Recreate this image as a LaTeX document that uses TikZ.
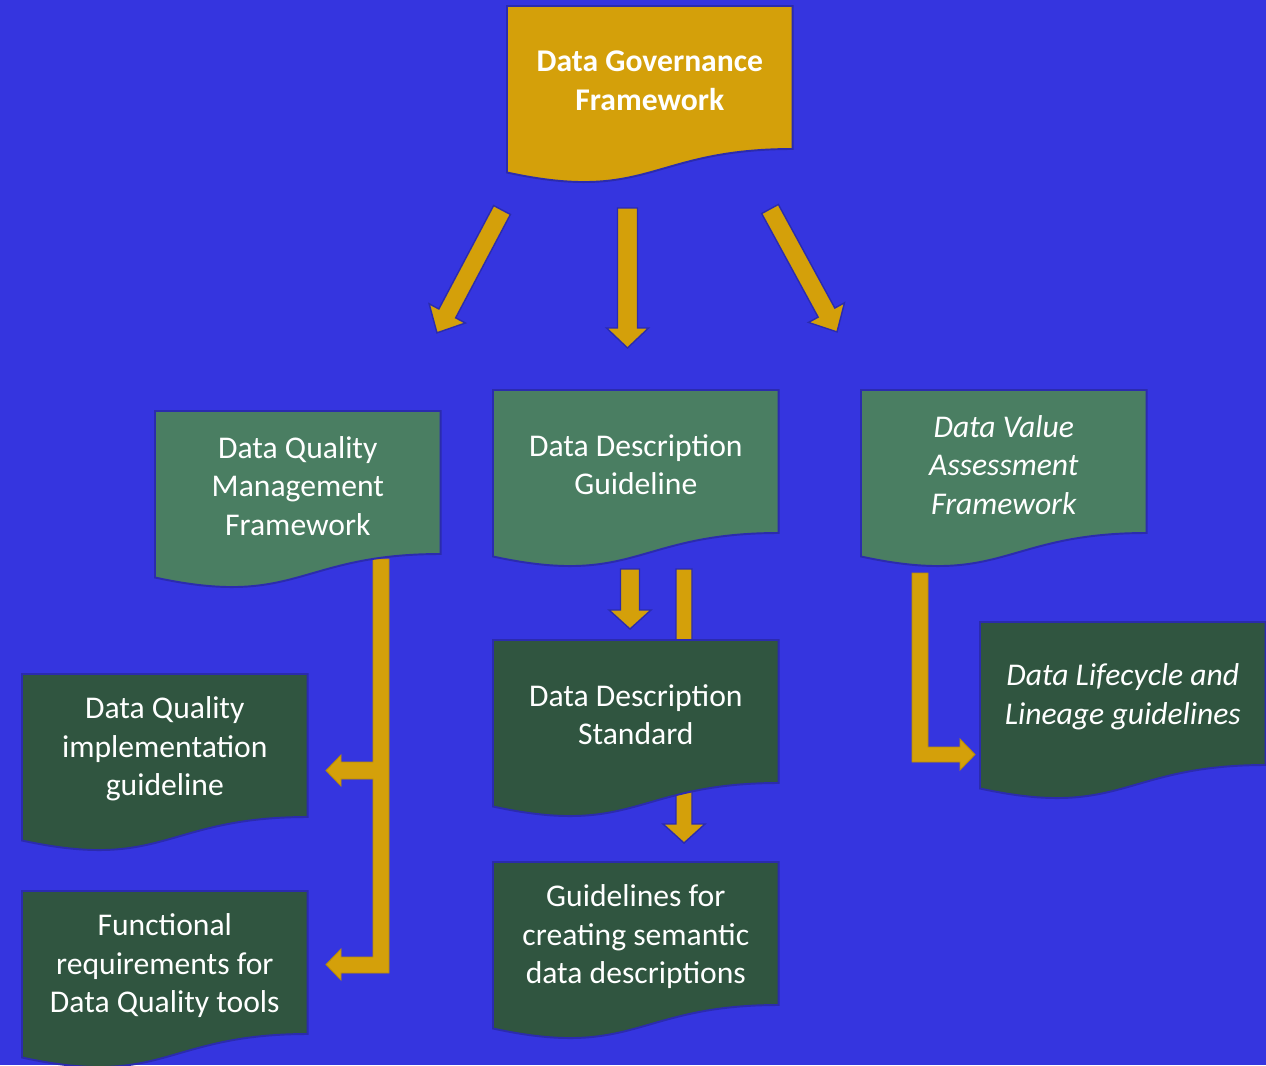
\documentclass[tikz,border=0pt]{standalone}
\usepackage{fontspec}
\setmainfont{Carlito}
\usetikzlibrary{calc}
\definecolor{bgblue}{HTML}{3535DF}
\definecolor{gold}{HTML}{D4A00A}
\definecolor{darkgold}{HTML}{B88A08}
\definecolor{lgreen}{HTML}{4A7E62}
\definecolor{dgreen}{HTML}{305540}
\definecolor{edgeblue}{HTML}{2B2BAE}
\pgfdeclarelayer{back}
\pgfdeclarelayer{shapes}
\pgfsetlayers{back,shapes,main}
\tikzset{
  doctext/.style={anchor=north west, minimum width=5.7cm, minimum height=2.86cm,
    inner sep=0pt, align=center, text=white, font=\fontsize{18}{21.8}\selectfont},
  docline/.style={draw=edgeblue, line width=1.1pt},
  arrowst/.style={fill=gold, draw=edgeblue, line width=0.8pt, line join=miter},
  bracketst/.style={fill=gold, draw=darkgold, line width=0.5pt},
  pics/barrow/.style args={#1/#2/#3/#4}{code={
    \draw[arrowst] (0,-#2/2) -- ({#1-#4},-#2/2) -- ({#1-#4},-#3/2) -- (#1,0)
      -- ({#1-#4},#3/2) -- ({#1-#4},#2/2) -- (0,#2/2) -- cycle;}}
}
% text nodes are placed 3px below the top of their shape
\newcommand\docpath[2]{%
  \draw[docline, fill=#2] ($(#1.north west)+(0,-3)$) -- ($(#1.north east)+(0,-3)$) -- ($(#1.north east)+(0,140)$)
    .. controls ($(#1.north)+(0,140)$) and ($(#1.north)+(0,194.5)$) .. ($(#1.north west)+(0,163.5)$) -- cycle;}
\begin{document}
\begin{tikzpicture}[x=0.02cm,y=-0.02cm]
\useasboundingbox (0,0) rectangle (1266,1065);
% text nodes
\node[doctext, font=\fontsize{18}{21.8}\selectfont\bfseries] (dgf) at (507,9) {Data Governance\\Framework};
\node[doctext] (dqmf) at (155,414) {Data Quality\\Management\\Framework};
\node[doctext] (ddg) at (493,393) {Data Description\\Guideline};
\node[doctext, font=\fontsize{18}{21.8}\selectfont\itshape] (dvaf) at (861,393) {Data Value\\Assessment\\Framework};
\node[doctext] (dqig) at (22,677) {Data Quality\\implementation\\guideline};
\node[doctext] (frdq) at (22,894) {Functional\\requirements for\\Data Quality tools};
\node[doctext] (dds) at (493,643) {Data Description\\Standard};
\node[doctext] (gcsdd) at (493,865) {Guidelines for\\creating semantic\\data descriptions};
\node[doctext, font=\fontsize{18}{21.8}\selectfont\itshape] (dllg) at (980,625) {Data Lifecycle and\\Lineage guidelines};
% shapes
\begin{pgfonlayer}{shapes}
\docpath{dgf}{gold}
\docpath{dqmf}{lgreen}
\docpath{ddg}{lgreen}
\docpath{dvaf}{lgreen}
\docpath{dqig}{dgreen}
\docpath{frdq}{dgreen}
\docpath{dds}{dgreen}
\docpath{gcsdd}{dgreen}
\docpath{dllg}{dgreen}
\end{pgfonlayer}
% background and arrows
\begin{pgfonlayer}{back}
\fill[bgblue] (0,0) rectangle (1266,1065);
\coordinate (t1) at (502,210);
\coordinate (t2) at (627.5,208);
\coordinate (t3) at (770,209);
\coordinate (t4) at (630,569);
\coordinate (t5) at (684,569);
\pic[rotate=242.1] at (t1) {barrow=139/19/41/22};
\pic[rotate=-90] at (t2) {barrow=140/20/42/20};
\pic[rotate=-61.4] at (t3) {barrow=140/19/41/22};
\pic[rotate=-90] at (t4) {barrow=60/19/42/19};
\pic[rotate=-90] at (t5) {barrow=274/16/42/19};
\draw[bracketst] (389,559) -- (389,973) -- (341,973) -- (341,980) -- (326,964.5) -- (341,949)
  -- (341,957) -- (373,957) -- (373,779) -- (341,779) -- (341,786) -- (326,770.5) -- (341,755)
  -- (341,762) -- (373,762) -- (373,559) -- cycle;
\draw[bracketst] (912,573) -- (928,573) -- (928,747) -- (960,747) -- (960,739) -- (975,754.5)
  -- (960,770) -- (960,762) -- (912,762) -- cycle;
\end{pgfonlayer}
\end{tikzpicture}
\end{document}
